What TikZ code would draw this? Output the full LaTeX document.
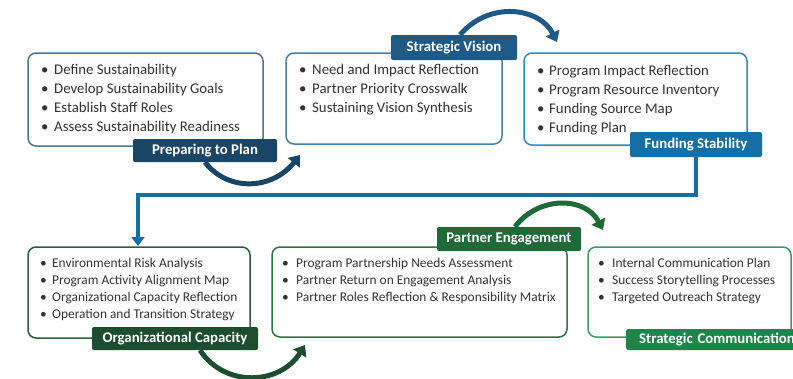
\documentclass[tikz,border=0pt]{standalone}
\usepackage{fontspec}
\setmainfont{Carlito}
\usetikzlibrary{arrows.meta}
\definecolor{txt}{HTML}{333333}
\definecolor{bA}{HTML}{4A7594}
\definecolor{bB}{HTML}{4A7EA3}
\definecolor{bC}{HTML}{2F88BF}
\definecolor{lA}{HTML}{1B4566}
\definecolor{lB}{HTML}{1E5A85}
\definecolor{lC}{HTML}{146FA6}
\definecolor{gA}{HTML}{2C5E3E}
\definecolor{gB}{HTML}{2F7447}
\definecolor{gC}{HTML}{3E9C62}
\definecolor{glA}{HTML}{1C4D2F}
\definecolor{glB}{HTML}{1E6A39}
\definecolor{glC}{HTML}{1E8449}
\newcommand\bul[1]{\makebox[#1][l]{\textbullet}}
\tikzset{
  box/.style={rounded corners=8pt, line width=1.5pt, fill=white},
  lab/.style={rounded corners=2pt, text=white, inner sep=0pt, font=\fontsize{14.8}{16}\selectfont\bfseries},
  toptext/.style={anchor=base west, inner sep=0pt, text=txt, font=\fontsize{14.8}{19}\selectfont},
  bottext/.style={anchor=base west, inner sep=0pt, text=txt, font=\fontsize{13.4}{17}\selectfont},
  bigarrow/.style={line width=5pt, -{Triangle[width=15pt,length=10pt]}},
}
\begin{document}
\begin{tikzpicture}[x=1pt,y=-1pt]
\useasboundingbox (0,0) rectangle (793,378);
\clip (0,0) rectangle (793,378);
% top row boxes
\draw[box, draw=bA] (28,53) rectangle (263,146);
\draw[box, draw=bB] (286,53) rectangle (502,144);
\draw[box, draw=bC] (524,53) rectangle (747,145);
% bottom row boxes
\draw[box, draw=gA] (28,247) rectangle (250,338);
\draw[box, draw=gB] (272,247) rectangle (567,337);
\draw[box, draw=gC] (588,247) rectangle (791,337);
% texts
\node[toptext] (t1) at (41,74) {\begin{tabular}[t]{@{}l@{}}\bul{13pt}Define Sustainability\\ \bul{13pt}Develop Sustainability Goals\\ \bul{13pt}Establish Staff Roles\\ \bul{13pt}Assess Sustainability Readiness\end{tabular}};
\node[toptext] (t2) at (299,74) {\begin{tabular}[t]{@{}l@{}}\bul{13pt}Need and Impact Reflection\\ \bul{13pt}Partner Priority Crosswalk\\ \bul{13pt}Sustaining Vision Synthesis\end{tabular}};
\node[toptext] (t3) at (537,75) {\begin{tabular}[t]{@{}l@{}}\bul{12pt}Program Impact Reflection\\ \bul{12pt}Program Resource Inventory\\ \bul{12pt}Funding Source Map\\ \bul{12pt}Funding Plan\end{tabular}};
\node[bottext] (t4) at (40,267) {\begin{tabular}[t]{@{}l@{}}\bul{12pt}Environmental Risk Analysis\\ \bul{12pt}Program Activity Alignment Map\\ \bul{12pt}Organizational Capacity Reflection\\ \bul{12pt}Operation and Transition Strategy\end{tabular}};
\node[bottext] (t5) at (282,267) {\begin{tabular}[t]{@{}l@{}}\bul{14pt}Program Partnership Needs Assessment\\ \bul{14pt}Partner Return on Engagement Analysis\\ \bul{14pt}Partner Roles Reflection \& Responsibility Matrix\end{tabular}};
\node[bottext] (t6) at (598,267) {\begin{tabular}[t]{@{}l@{}}\bul{14pt}Internal Communication Plan\\ \bul{14pt}Success Storytelling Processes\\ \bul{14pt}Targeted Outreach Strategy\end{tabular}};
% labels
\node[lab, fill=lA, minimum width=144pt, minimum height=23pt] (l1) at (205,150.5) {Preparing to Plan};
\node[lab, fill=lB, minimum width=126pt, minimum height=25pt] (l2) at (454,47.5) {Strategic Vision};
\node[lab, fill=lC, minimum width=132pt, minimum height=25pt] (l3) at (696,144.5) {Funding Stability};
\node[lab, fill=glA, minimum width=166pt, minimum height=23pt] (l4) at (175,338.5) {Organizational Capacity};
\node[lab, fill=glB, minimum width=144pt, minimum height=24pt] (l5) at (509,239) {Partner Engagement};
\node[lab, fill=glC, minimum height=21pt, anchor=west, text width=190pt, align=left, inner xsep=13pt] (l6) at (626,339.5) {Strategic Communication};
% arrow end points
\coordinate (e1) at (300,155);
\coordinate (e2) at (557,42);
\coordinate (e4) at (305,345);
\coordinate (e5) at (603,230);
\coordinate (c1) at (696,195);
\coordinate (c2) at (138,195);
\coordinate (e3) at (138,246);
% arrows
\draw[bigarrow, draw=lA] (l1.south) .. controls (228,192) and (272,190) .. (e1);
\draw[bigarrow, draw=lB] ([xshift=6pt]l2.north) .. controls (490,0) and (540,8) .. (e2);
\draw[bigarrow, draw=glA] ([xshift=25pt]l4.south) .. controls (225,388) and (280,385) .. (e4);
\draw[bigarrow, draw=glB] ([xshift=6pt]l5.north) .. controls (538,196) and (585,196) .. (e5);
\draw[line width=4pt, draw=lC, -{Triangle[width=13pt,length=9pt]}] (l3.south) -- (c1) -- (c2) -- (e3);
\end{tikzpicture}
\end{document}
